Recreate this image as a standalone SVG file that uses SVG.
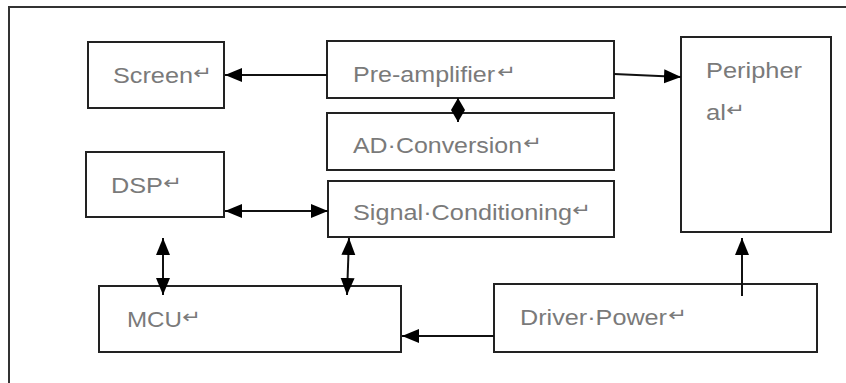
<svg xmlns="http://www.w3.org/2000/svg" width="846" height="383" viewBox="0 0 846 383">
  <style>
    .box { fill: #ffffff; stroke: #222222; stroke-width: 2; }
    .frame { fill: none; stroke: #333333; stroke-width: 2; }
    .lbl { font-family: "Liberation Sans", Arial, sans-serif; font-size: 22px; fill: #7a7a7a; }
    .ret { font-family: "DejaVu Sans", sans-serif; font-size: 18px; fill: #7a7a7a; }
    .wire { fill: none; stroke: #111111; stroke-width: 2; }
  </style>
  <defs>
    <marker id="head" markerUnits="userSpaceOnUse" markerWidth="17" markerHeight="15" refX="17" refY="7.5" orient="auto-start-reverse">
      <path d="M0,0.5 L17,7.5 L0,14.5 z" fill="#000000"/>
    </marker>
    <marker id="headSmall" markerUnits="userSpaceOnUse" markerWidth="12" markerHeight="14" refX="12" refY="7" orient="auto-start-reverse">
      <path d="M0,0 L12,7 L0,14 z" fill="#000000"/>
    </marker>
  </defs>

  <rect width="846" height="383" fill="#ffffff"/>
  <!-- outer frame (right and bottom edges run off the page) -->
  <rect class="frame" x="9" y="7" width="900" height="420"/>

  <g id="screen">
    <rect class="box" x="88" y="42" width="136" height="66"/>
    <text class="lbl" x="113" y="83" textLength="80" lengthAdjust="spacingAndGlyphs">Screen</text>
    <text class="ret" x="193" y="79" textLength="19" lengthAdjust="spacingAndGlyphs">↵</text>
  </g>

  <g id="pre-amplifier">
    <rect class="box" x="327" y="41" width="287" height="57"/>
    <text class="lbl" x="353" y="82" textLength="142" lengthAdjust="spacingAndGlyphs">Pre-amplifier</text>
    <text class="ret" x="497" y="78" textLength="19" lengthAdjust="spacingAndGlyphs">↵</text>
  </g>

  <g id="ad-conversion">
    <rect class="box" x="327" y="113" width="287" height="57"/>
    <text class="lbl" x="353" y="153" textLength="169" lengthAdjust="spacingAndGlyphs">AD·Conversion</text>
    <text class="ret" x="523" y="149" textLength="19" lengthAdjust="spacingAndGlyphs">↵</text>
  </g>

  <g id="signal-conditioning">
    <rect class="box" x="328" y="181" width="286" height="56"/>
    <text class="lbl" x="353" y="220" textLength="219" lengthAdjust="spacingAndGlyphs">Signal·Conditioning</text>
    <text class="ret" x="572" y="216" textLength="19" lengthAdjust="spacingAndGlyphs">↵</text>
  </g>

  <g id="peripheral">
    <rect class="box" x="681" y="37" width="150" height="195"/>
    <text class="lbl" x="706" y="78" textLength="96" lengthAdjust="spacingAndGlyphs">Peripher</text>
    <text class="lbl" x="706" y="120" textLength="20" lengthAdjust="spacingAndGlyphs">al</text>
    <text class="ret" x="726" y="116" textLength="19" lengthAdjust="spacingAndGlyphs">↵</text>
  </g>

  <g id="dsp">
    <rect class="box" x="86" y="152" width="138" height="65"/>
    <text class="lbl" x="111" y="193" textLength="52" lengthAdjust="spacingAndGlyphs">DSP</text>
    <text class="ret" x="163" y="189" textLength="19" lengthAdjust="spacingAndGlyphs">↵</text>
  </g>

  <g id="mcu">
    <rect class="box" x="99" y="286" width="302" height="66"/>
    <text class="lbl" x="127" y="327" textLength="55" lengthAdjust="spacingAndGlyphs">MCU</text>
    <text class="ret" x="182" y="323" textLength="19" lengthAdjust="spacingAndGlyphs">↵</text>
  </g>

  <g id="driver-power">
    <rect class="box" x="494" y="284" width="323" height="68"/>
    <text class="lbl" x="520" y="325" textLength="147" lengthAdjust="spacingAndGlyphs">Driver·Power</text>
    <text class="ret" x="668" y="321" textLength="19" lengthAdjust="spacingAndGlyphs">↵</text>
  </g>

  <g id="connectors">
    <!-- Pre-amplifier to Screen -->
    <line class="wire" x1="327" y1="75" x2="225" y2="75" marker-end="url(#head)"/>
    <!-- Pre-amplifier to Peripheral -->
    <line class="wire" x1="614" y1="74" x2="681" y2="77" marker-end="url(#head)"/>
    <!-- Pre-amplifier and AD Conversion -->
    <line class="wire" x1="458" y1="98" x2="458" y2="122" marker-start="url(#headSmall)" marker-end="url(#headSmall)"/>
    <!-- DSP and Signal Conditioning -->
    <line class="wire" x1="225" y1="211" x2="328" y2="211" marker-start="url(#head)" marker-end="url(#head)"/>
    <!-- DSP and MCU -->
    <line class="wire" x1="163" y1="238" x2="163" y2="295" marker-start="url(#head)" marker-end="url(#head)"/>
    <!-- Signal Conditioning and MCU -->
    <line class="wire" x1="349" y1="238" x2="347" y2="295" marker-start="url(#head)" marker-end="url(#head)"/>
    <!-- Driver Power to MCU -->
    <line class="wire" x1="494" y1="336" x2="402" y2="336" marker-end="url(#head)"/>
    <!-- Driver Power to Peripheral -->
    <line class="wire" x1="742" y1="296" x2="742" y2="238" marker-end="url(#head)"/>
  </g>
</svg>
